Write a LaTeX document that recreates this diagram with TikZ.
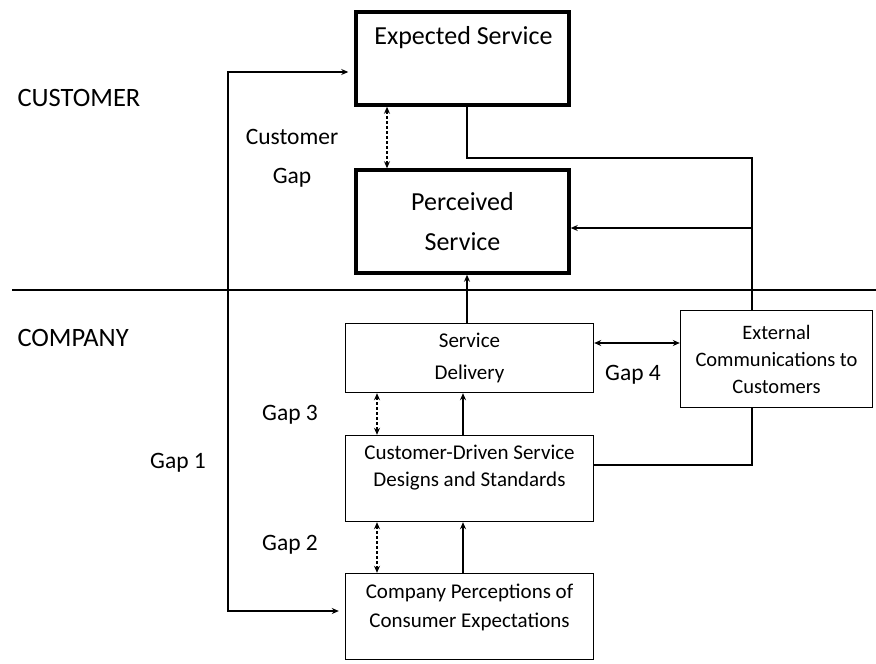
\documentclass[tikz,border=0pt]{standalone}
\usepackage{fontspec}
\setmainfont{Carlito}
\usetikzlibrary{arrows.meta, positioning, calc}

\begin{document}
\begin{tikzpicture}[>={Stealth[length=7pt, width=6pt]}, x=1pt, y=-1pt,
    heavybox/.style={draw, line width=3.5pt, minimum width=213pt},
    thinbox/.style={draw, line width=1.4pt, minimum width=248pt},
    boxtext/.style={align=center, font=\fontsize{21}{29}\selectfont},
    bigtext/.style={align=center, font=\fontsize{26}{40}\selectfont},
    gaplbl/.style={font=\fontsize{23.5}{39}\selectfont, align=center},
    sidelbl/.style={font=\fontsize{26.5}{30}\selectfont, anchor=west},
    link/.style={line width=1.4pt},
    gapdash/.style={<->, line width=1.2pt, densely dashed},
    heavy/.style={line width=2.6pt}]
  \useasboundingbox (0,0) rectangle (876,664);

  % Customer side
  \node[heavybox, minimum height=93pt] (exp) at (462.5,58.5) {};
  \node[bigtext] (exptxt) at (463.5,38) {Expected Service};
  \node[heavybox, minimum height=103pt, bigtext] (per) at (462.5,221.5) {Perceived\\Service};

  % Company side
  \node[thinbox, minimum height=69pt, boxtext, font=\fontsize{21}{32}\selectfont] (del) at (469.5,358) {Service\\Delivery};
  \node[thinbox, minimum height=86pt] (des) at (469.5,478.5) {};
  \node[boxtext, font=\fontsize{21}{27}\selectfont] (destxt) at (469.5,468) {Customer-Driven Service\\Designs and Standards};
  \node[thinbox, minimum height=86pt] (comp) at (469.5,616.5) {};
  \node[boxtext] (comptxt) at (469.5,607) {Company Perceptions of\\Consumer Expectations};
  \node[draw, line width=1.4pt, minimum width=192pt, minimum height=97pt,
        boxtext, font=\fontsize{20.5}{27}\selectfont] (ext) at (776.5,359)
        {External\\Communications to\\Customers};

  % Customer / company split
  \draw[line width=1.3pt] (12,290) -- (876,290);
  \node[sidelbl] (custlbl) at (14,98) {CUSTOMER};
  \node[sidelbl] (complbl) at (14,338) {COMPANY};

  % Gap labels
  \node[gaplbl] (cgap) at (292,158) {Customer\\Gap};
  \node[gaplbl] (gap1) at (178,463) {Gap 1};
  \node[gaplbl] (gap2) at (290,545) {Gap 2};
  \node[gaplbl] (gap3) at (290,415) {Gap 3};
  \node[gaplbl] (gap4) at (633,375) {Gap 4};

  % Connectors
  \coordinate (g1) at (228,300);
  \coordinate (cx) at (752,158);
  \coordinate (px) at (752,228);
  \draw[heavy, <->, shorten <=6pt, shorten >=6pt]
    ([yshift=-13.5pt]exp.west) -| (g1) |- ([yshift=5.5pt]comp.west);
  \draw[gapdash] ([xshift=-75.5pt]exp.south) -- ([xshift=-75.5pt]per.north);
  \draw[link] ([xshift=4.5pt]exp.south) |- (cx) -- ([xshift=-24.5pt]ext.north);
  \draw[link, ->] (px) -- (per.east |- px);
  \draw[link, ->] ([xshift=-2.5pt]del.north) -- ([xshift=4.5pt]per.south);
  \draw[gapdash] ([xshift=-92.5pt]del.south) -- ([xshift=-92.5pt]des.north);
  \draw[link, ->] ([xshift=-6.5pt]des.north) -- ([xshift=-6.5pt]del.south);
  \draw[gapdash] ([xshift=-92.5pt]des.south) -- ([xshift=-92.5pt]comp.north);
  \draw[link, ->] ([xshift=-6.5pt]comp.north) -- ([xshift=-6.5pt]des.south);
  \draw[link, <->] ([yshift=15pt]del.east) -- ([yshift=16pt]ext.west);
  \draw[heavy] ([xshift=-24.5pt]ext.south) |- ([yshift=13.5pt]des.east);
\end{tikzpicture}
\end{document}
